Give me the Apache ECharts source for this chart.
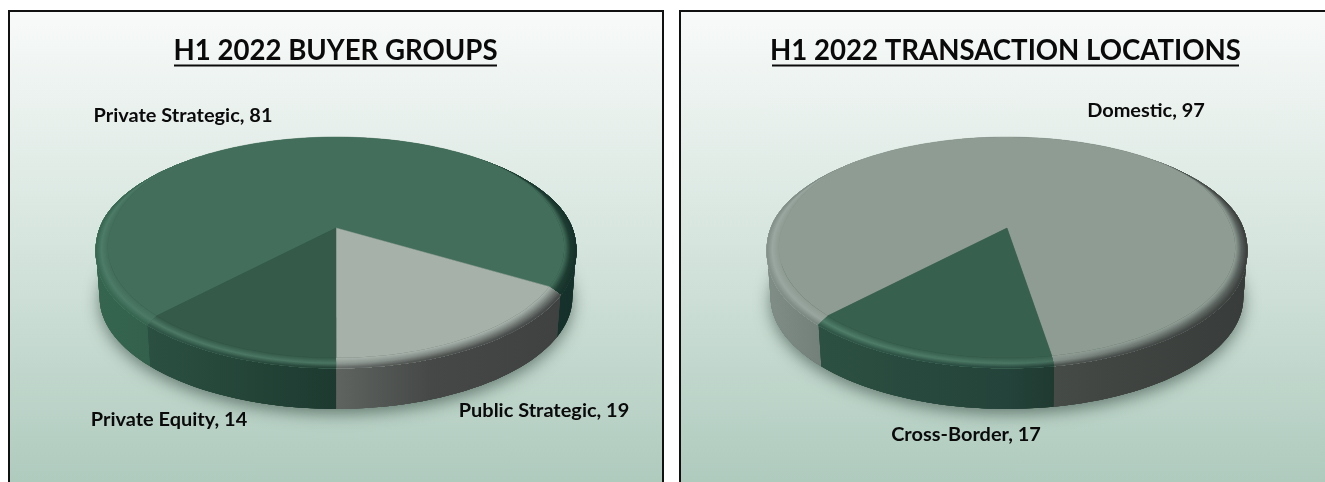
<!DOCTYPE html>
<html>
<head>
<meta charset="utf-8">
<title>H1 2022</title>
<script src="https://cdn.jsdelivr.net/npm/echarts@6/dist/echarts.min.js"></script>
<style>
  html, body { margin: 0; padding: 0; background: #fff; overflow: hidden; }
  .panel {
    position: absolute;
    top: 10px;
    height: 480px;
    box-sizing: border-box;
    border: 2px solid #111;
    background: linear-gradient(180deg, #f8faf9 0%, #d6e5de 48%, #aecabd 100%);
  }
  #buyerChart { left: 8px; width: 656px; }
  #locationChart { left: 679px; width: 660px; }
</style>
</head>
<body>
<div class="panel" id="buyerChart"></div>
<div class="panel" id="locationChart"></div>
<script>
// values
const buyerTitle = 'H1 2022 BUYER GROUPS';
const buyerCategories = ['Private Strategic', 'Public Strategic', 'Private Equity'];
const buyerValues = [81, 19, 14];

const locationTitle = 'H1 2022 TRANSACTION LOCATIONS';
const locationCategories = ['Domestic', 'Cross-Border'];
const locationValues = [97, 17];

// first slice angle, clockwise from 12 o'clock
const firstSliceAngle = 224.2;

// slice colours: rim and wall stops sit at shadeStops across the pie width
const shadeStops = [0, 0.5, 0.7, 1];
const buyerStyles = [
  { face: '#426e5b', rim: ['#4d7c68', '#44705d', '#2f5545', '#1c3a30'], wall: ['#35654f', '#2a4f40', '#1f3d32', '#15302a'] },
  { face: '#a6b1aa', rim: ['#8f9a94', '#8f9a94', '#7c847f', '#6d7571'], wall: ['#616663', '#5f6461', '#454846', '#3e4140'] },
  { face: '#355a4a', rim: ['#4d7a66', '#4a7562', '#44695a', '#3a5f4f'], wall: ['#2e5646', '#1e3a30', '#1e3a30', '#1e3a30'] }
];
const locationStyles = [
  { face: '#8e9c94', rim: ['#9aa8a1', '#8e9c94', '#737d78', '#565e5a'], wall: ['#7f8d86', '#4a504c', '#414643', '#383c3a'] },
  { face: '#38604f', rim: ['#50806b', '#4a7663', '#44695a', '#3a5f4f'], wall: ['#2e5444', '#24433a', '#1b3028', '#1b3028'] }
];

// pie projection (pixels inside the panel)
const pieBuyer = { cx: 326, cy: 216 };
const pieLocation = { cx: 326, cy: 216 };
const persp = 0.176, radX = 230.4, radY = 107;
const faceSx = 0.975;
const rimLevel = { sx: 1.025, sy: 1.025, dy: 6.75 };
const baseLevel = { sx: 1.01, sy: 1.01, dy: 49.7 };

function smooth(k) {
  k = Math.min(1, Math.max(0, k));
  return k * k * (3 - 2 * k);
}
function project(pie, deg, level) {
  const th = deg * Math.PI / 180;
  const w = 1 + persp * Math.cos(th);
  let sx = level.sx, sy = level.sy, dy = level.dy;
  if (level.t !== undefined) {
    // bevel narrows round the back and only drops along the front
    const side = smooth((0.85 - Math.cos(th)) / 0.85);
    const front = smooth((0.15 - Math.cos(th)) / 0.7);
    sx = rimLevel.sx - (rimLevel.sx - faceSx) * (1 - level.t) * side;
    sy = 1 + (rimLevel.sy - 1) * level.t * front;
    dy = rimLevel.dy * level.t * front;
  }
  if (level.down !== undefined) {
    // part way down the wall, from the rim to the base
    const a = project(pie, deg, { t: 1 }), b = project(pie, deg, baseLevel);
    return [a[0] + (b[0] - a[0]) * level.down, a[1] + (b[1] - a[1]) * level.down];
  }
  return [
    pie.cx + sx * radX * Math.sin(th) / w,
    pie.cy + dy - sy * radY * Math.cos(th) / w
  ];
}
function arc(pie, from, to, level) {
  const pts = [];
  const n = Math.max(2, Math.ceil((to - from) / 2));
  for (let i = 0; i <= n; i++) pts.push(project(pie, from + (to - from) * i / n, level));
  return pts;
}
function hex(c) { return [1, 3, 5].map(i => parseInt(c.substr(i, 2), 16)); }
function mix(a, b, t) {
  const x = hex(a), y = hex(b);
  return '#' + x.map((v, i) => Math.round(v + (y[i] - v) * t).toString(16).padStart(2, '0')).join('');
}
function hGradient(pie, cols) {
  const rx = radX * 1.03;
  return new echarts.graphic.LinearGradient(pie.cx - rx, 0, pie.cx + rx, 0,
    cols.map((c, i) => ({ offset: shadeStops[i], color: c })), true);
}
function band(from, to, lvlA, lvlB, pie, fill) {
  return {
    type: 'polygon',
    shape: { points: arc(pie, from, to, lvlA).concat(arc(pie, from, to, lvlB).reverse()) },
    style: { fill: fill }
  };
}

// one pie: sides series, then tops series, then labels, all driven from the value arrays
function pieOption(title, categories, values, styles, pie, labels, titleX, underline) {
  const total = values.reduce((a, b) => a + b, 0);
  let acc = firstSliceAngle;
  const rows = values.map((v, i) => {
    const start = acc;
    acc += v / total * 360;
    return { name: categories[i], value: [start, acc, v] };
  });

  const renderSide = function (params, api) {
    const from = api.value(0), to = api.value(1);
    const st = styles[params.dataIndex];
    const children = [];
    if (params.dataIndex === 0) {
      children.push({
        type: 'polygon',
        shape: { points: arc(pie, 0, 360, baseLevel) },
        style: { fill: '#2c4439', shadowBlur: 16, shadowOffsetY: 5, shadowColor: 'rgba(30,50,40,0.55)' }
      });
    }
    // wall stacked in overlapping layers so the outline follows the rim down to the base
    const wallFill = hGradient(pie, st.wall);
    const layers = 22;
    for (let i = layers; i > 0; i--) {
      children.push(band(from, to, { down: (i - 1) / layers }, { down: Math.min(1, (i + 2) / layers) }, pie, wallFill));
    }
    // rounded edge between the flat top and the wall
    const steps = 12;
    for (let i = 0; i < steps; i++) {
      const t = i / steps;
      const cols = st.rim.map((c, k) => {
        return t < 0.5 ? mix(st.face, c, t / 0.5) : mix(c, st.wall[k], (t - 0.5) / 0.5);
      });
      children.push(band(from, to, { t: t }, { t: 1.05 }, pie, hGradient(pie, cols)));
    }
    return { type: 'group', children: children };
  };

  const renderTop = function (params, api) {
    const from = api.value(0), to = api.value(1);
    const st = styles[params.dataIndex];
    return {
      type: 'polygon',
      shape: { points: [[pie.cx, pie.cy]].concat(arc(pie, from, to, { t: 0 })) },
      style: { fill: st.face, stroke: st.face, lineWidth: 0.5 }
    };
  };

  const renderLabel = function (params, api) {
    const pos = labels[params.dataIndex];
    return {
      type: 'text',
      x: pos[0], y: pos[1],
      scaleX: 1.05,
      style: {
        text: categories[params.dataIndex] + ', ' + api.value(2),
        align: 'center', verticalAlign: 'middle',
        fontFamily: 'Lato', fontWeight: 'bold', fontSize: 19, fill: '#0a0a0a'
      }
    };
  };

  return {
    animation: false,
    title: {
      text: title,
      left: titleX, top: 20, textAlign: 'center',
      textStyle: { fontFamily: 'Lato', fontWeight: 'bold', fontSize: 27.6, color: '#0a0a0a' }
    },
    graphic: [{
      type: 'line',
      shape: { x1: underline[0], y1: 53.5, x2: underline[1], y2: 53.5 },
      style: { stroke: '#0a0a0a', lineWidth: 2 }
    }],
    series: [
      { type: 'custom', coordinateSystem: 'none', data: rows, renderItem: renderSide, silent: true, z: 1 },
      { type: 'custom', coordinateSystem: 'none', data: rows, renderItem: renderTop, silent: true, z: 2 },
      { type: 'custom', coordinateSystem: 'none', data: rows, renderItem: renderLabel, silent: true, z: 3 }
    ]
  };
}

let buyerChart = echarts.init(document.getElementById('buyerChart'));
buyerChart.setOption(pieOption(buyerTitle, buyerCategories, buyerValues, buyerStyles, pieBuyer,
  [[173, 104], [534, 399], [159, 408]], 320.5, [164, 487]));

let locationChart = echarts.init(document.getElementById('locationChart'));
locationChart.setOption(pieOption(locationTitle, locationCategories, locationValues, locationStyles, pieLocation,
  [[465, 99], [285, 423]], 319.5, [91, 558]));
</script>
</body>
</html>
